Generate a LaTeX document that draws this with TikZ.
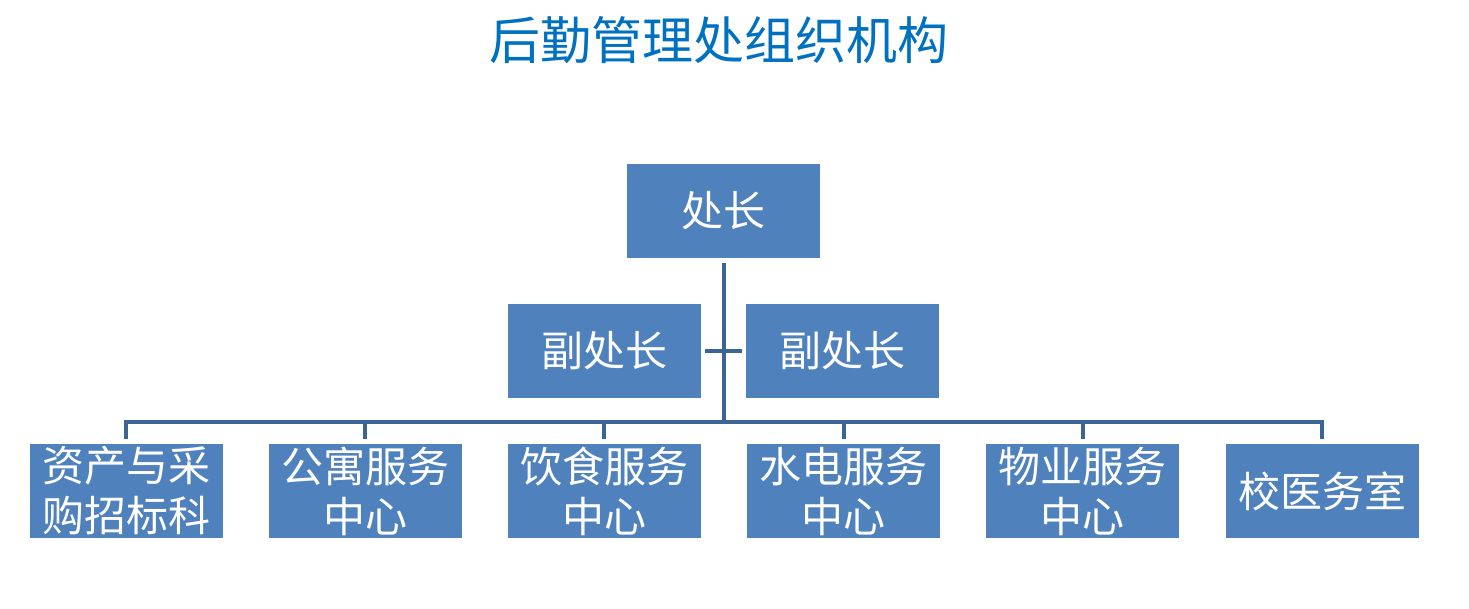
\documentclass[tikz,border=0pt]{standalone}
\usepackage{fontspec}
\usepackage{xcolor}
\usetikzlibrary{positioning}
\newfontfamily\cjk{Noto Sans CJK SC}
\definecolor{boxblue}{HTML}{4F81BD}
\definecolor{linkblue}{HTML}{3C6496}
\definecolor{titleblue}{HTML}{0070C0}

\begin{document}
\begin{tikzpicture}[
  x=1pt, y=-1pt,
  font=\cjk,
  node distance=46pt and 45.8pt,
  box/.style={rectangle, fill=boxblue, text=white, align=center, inner sep=0pt,
    minimum width=193pt, minimum height=94pt, font=\cjk\fontsize{42}{50}\selectfont},
  link/.style={draw=linkblue, line width=4pt}
]
\useasboundingbox[fill=white] (0,0) rectangle (1469,609);

\node[text=titleblue, font=\cjk\fontsize{51}{58}\selectfont] (title) at (719,40) {后勤管理处组织机构};

\node[box] (head) at (723.5,211) {处长};
\node[box] (dep1) at (604.5,351) {副处长};
\node[box] (dep2) at (842.5,351) {副处长};

\node[box] (asset) at (126,491) {资产与采\\购招标科};
\node[box, right=of asset] (apart) {公寓服务\\中心};
\node[box, right=of apart] (food) {饮食服务\\中心};
\node[box, right=of food] (power) {水电服务\\中心};
\node[box, right=of power] (estate) {物业服务\\中心};
\node[box, right=of estate] (clinic) {校医务室};

\coordinate (bar) at (0,422);

\draw[link] ([yshift=-5pt]head.south) -- (head.south |- bar);
\draw[link] ([xshift=4pt]dep1.east) -- ([xshift=-4pt]dep2.west);
\draw[link] ([yshift=5pt]asset.north) -- (asset.north |- bar) -- (clinic.north |- bar) -- ([yshift=5pt]clinic.north);
\foreach \n in {apart,food,power,estate}
  \draw[link] (\n.north |- bar) -- ([yshift=5pt]\n.north);
\end{tikzpicture}
\end{document}
